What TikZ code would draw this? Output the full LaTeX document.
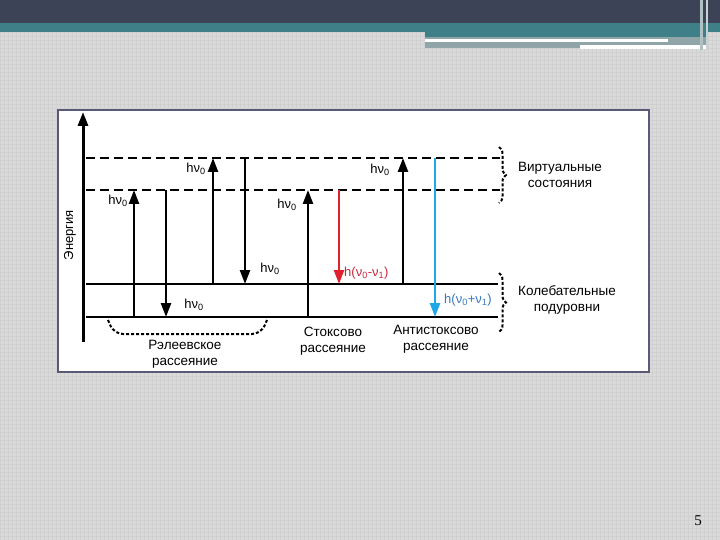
\documentclass[tikz,border=0pt]{standalone}
\usepackage{fontspec}
\setmainfont{Liberation Sans}
\newfontfamily\numfont{Liberation Serif}
\usetikzlibrary{arrows.meta,decorations.pathreplacing}
\definecolor{bgc}{HTML}{DADADA}
\definecolor{gridc}{HTML}{D0D0D0}
\definecolor{darkband}{HTML}{3D4356}
\definecolor{tealband}{HTML}{3F8088}
\definecolor{grayband}{HTML}{8FA5A8}
\definecolor{boxborder}{HTML}{5A5A78}
\definecolor{redarr}{HTML}{E0202C}
\definecolor{redtxt}{HTML}{C8283C}
\definecolor{bluearr}{HTML}{1EA8E8}
\definecolor{bluetxt}{HTML}{3878C0}
\tikzset{
  photon/.style={line width=2.4pt,-{Triangle[length=14pt,width=10pt]}},
  axisarrow/.style={line width=3pt,-{Triangle[length=14pt,width=10pt]}},
  virt/.style={line width=1.5pt,dash pattern=on 9pt off 5pt},
  vib/.style={line width=1.5pt},
  dotline/.style={line width=2pt,dash pattern=on 3pt off 2pt},
  curly/.style={dotline,decorate,decoration={brace,amplitude=7pt}},
  lbl/.style={font=\fontsize{13}{15}\selectfont,inner sep=0pt},
  cap2/.style={font=\fontsize{13.5}{16}\selectfont,align=center,inner sep=0pt}
}
\newcommand{\hnu}{hν\textsubscript{0}}
\begin{document}
\begin{tikzpicture}[x=1pt,y=-1pt]
\useasboundingbox (0,0) rectangle (720,540);
% background
\fill[bgc] (0,0) rectangle (720,540);
\foreach \i in {0,4,...,720} {\draw[gridc,line width=0.4pt] (\i,0) -- (\i,540);}
\foreach \j in {0,4,...,540} {\draw[gridc,line width=0.4pt] (0,\j) -- (720,\j);}
% header
\fill[darkband] (0,0) rectangle (720,23);
\fill[tealband] (0,23) rectangle (720,32);
\fill[tealband] (425,32) rectangle (708,37);
\fill[grayband] (425,37) rectangle (708,48);
\fill[white] (425,39) rectangle (668,42);
\fill[white] (580,45) rectangle (707,49);
\fill[grayband!70!white] (700,0) rectangle (703,50);
\fill[grayband!50!white] (706,0) rectangle (708,50);
% box
\node[draw=boxborder,line width=2pt,fill=white,minimum width=591pt,minimum height=262pt,inner sep=0pt] (box) at (353.5,241) {};
% axis
\coordinate (ax0) at (83,342);
\coordinate (ax1) at (83,112);
\draw[axisarrow] (ax0) -- (ax1);
\node[lbl,rotate=90] (energy) at (70,235) {Энергия};
% levels
\coordinate (v1a) at (86,158); \coordinate (v1b) at (500,158);
\coordinate (v2a) at (86,190); \coordinate (v2b) at (500,190);
\coordinate (g1a) at (86,284); \coordinate (g1b) at (498,284);
\coordinate (g2a) at (86,317); \coordinate (g2b) at (498,317);
\draw[virt] (v1a) -- (v1b);
\draw[virt] (v2a) -- (v2b);
\draw[vib] (g1a) -- (g1b);
\draw[vib] (g2a) -- (g2b);
% Rayleigh
\coordinate (r1s) at (134,317); \coordinate (r1e) at (134,190);
\coordinate (r2s) at (166,190); \coordinate (r2e) at (166,317);
\coordinate (r3s) at (213,284); \coordinate (r3e) at (213,158);
\coordinate (r4s) at (245,158); \coordinate (r4e) at (245,284);
\draw[photon] (r1s) -- (r1e);
\draw[photon] (r2s) -- (r2e);
\draw[photon] (r3s) -- (r3e);
\draw[photon] (r4s) -- (r4e);
\node[lbl] (l1) at (118,201) {\hnu};
\node[lbl] (l2) at (194,305) {\hnu};
\node[lbl] (l3) at (196,169) {\hnu};
\node[lbl] (l4) at (270,269) {\hnu};
% Stokes
\coordinate (s1s) at (308,317); \coordinate (s1e) at (308,190);
\coordinate (s2s) at (339,190); \coordinate (s2e) at (339,284);
\draw[photon] (s1s) -- (s1e);
\draw[photon,redarr] (s2s) -- (s2e);
\node[lbl] (l5) at (287,205) {\hnu};
\node[lbl,text=redtxt,anchor=west] (l6) at (344,273) {h(ν\textsubscript{0}-ν\textsubscript{1})};
% anti-Stokes
\coordinate (a1s) at (403,284); \coordinate (a1e) at (403,158);
\coordinate (a2s) at (435,158); \coordinate (a2e) at (435,317);
\draw[photon] (a1s) -- (a1e);
\draw[photon,bluearr] (a2s) -- (a2e);
\node[lbl] (l7) at (380,170) {\hnu};
\node[lbl,text=bluetxt,anchor=west] (l8) at (444,300) {h(ν\textsubscript{0}+ν\textsubscript{1})};
% braces
\coordinate (b1a) at (499,147); \coordinate (b1b) at (499,203);
\coordinate (b2a) at (499,273); \coordinate (b2b) at (499,332);
\coordinate (b3a) at (108,320); \coordinate (b3b) at (267,320);
\draw[curly] (b1a) -- (b1b);
\draw[curly] (b2a) -- (b2b);
\draw[dotline,rounded corners=9pt] (b3a) -- (114,334) -- (261,334) -- (b3b);
\node[cap2] (virtual) at (560,175) {Виртуальные\\состояния};
\node[cap2] (vibr) at (567,300) {Колебательные\\подуровни};
\node[cap2] (rayl) at (185,354) {Рэлеевское\\рассеяние};
\node[cap2] (stokes) at (333,341) {Стоксово\\рассеяние};
\node[cap2] (anti) at (436,339) {Антистоксово\\рассеяние};
% page number
\node[font=\numfont\fontsize{15}{16}\selectfont,inner sep=0pt] (pnum) at (698,521) {5};
\end{tikzpicture}
\end{document}
